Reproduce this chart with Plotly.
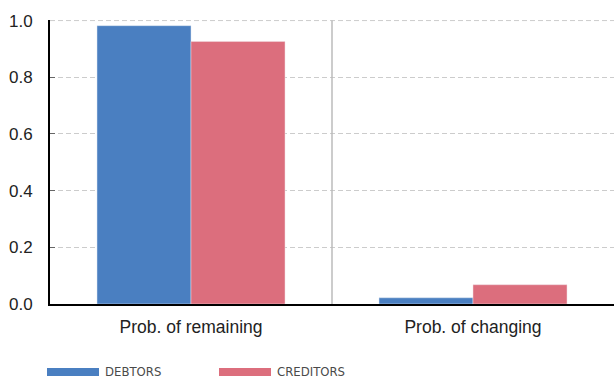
import plotly.graph_objects as go

categories = ["Prob. of remaining", "Prob. of changing"]
debtors = [0.982, 0.022]
creditors = [0.926, 0.068]
series_names = ["DEBTORS", "CREDITORS"]
colors = ["#4a7fc1", "#dc6e7d"]

fig = go.Figure()
fig.add_trace(go.Bar(x=categories, y=debtors, name=series_names[0],
                     marker=dict(color=colors[0], line=dict(width=0.5, color="#dfe6f0")),
                     showlegend=False))
fig.add_trace(go.Bar(x=categories, y=creditors, name=series_names[1],
                     marker=dict(color=colors[1], line=dict(width=0.5, color="#f0dfe2")),
                     showlegend=False))

# top gridline (at the axis edge)
fig.add_shape(type="line", xref="paper", yref="y", x0=0, x1=1, y0=1, y1=1,
              line=dict(color="#cccccc", width=1, dash="5px,3px"), layer="below")
# separator between categories
fig.add_shape(type="line", xref="x", yref="y", x0=0.5, x1=0.5, y0=0, y1=1,
              line=dict(color="#bbbbbb", width=1.5))

# custom legend
W, L, T, H = 564, 50, 20, 284
def px(x):
    return (x - L) / W
def py(y):
    return (T + H - y) / H
legend_pos = [(47, 99, 103), (219, 271, 275)]
for (x0, x1, tx), name, c in zip(legend_pos, series_names, colors):
    fig.add_shape(type="rect", xref="paper", yref="paper", x0=px(x0), x1=px(x1),
                  y0=py(376), y1=py(368), fillcolor=c, line=dict(width=0))
    fig.add_annotation(xref="paper", yref="paper", x=px(tx), y=py(371.5), text=name,
                       showarrow=False, xanchor="left", yanchor="middle",
                       font=dict(family="DejaVu Sans Condensed", size=13, color="#4a4a4a"))

fig.update_layout(
    width=614, height=378,
    margin=dict(l=50, r=0, t=20, b=74),
    paper_bgcolor="white", plot_bgcolor="white",
    barmode="group", bargap=1/3, bargroupgap=0,
    font=dict(family="Liberation Sans", size=17, color="#222222"),
)
fig.update_xaxes(showline=True, linecolor="black", linewidth=2, showgrid=False,
                 ticks="", ticklabelstandoff=6,
                 tickfont=dict(size=17.5, color="#222222"))
fig.update_yaxes(range=[0, 1.002], tickvals=[0, 0.2, 0.4, 0.6, 0.8, 1.0],
                 tickformat=".1f", showline=True,
                 linecolor="black", linewidth=2, showgrid=True, gridcolor="#cccccc",
                 griddash="5px,3px", gridwidth=1, zeroline=False,
                 ticks="inside", ticklen=5, tickcolor="#666666", tickwidth=1,
                 ticklabelstandoff=12,
                 tickfont=dict(size=17, color="#222222"))

fig.write_html("out.html")
